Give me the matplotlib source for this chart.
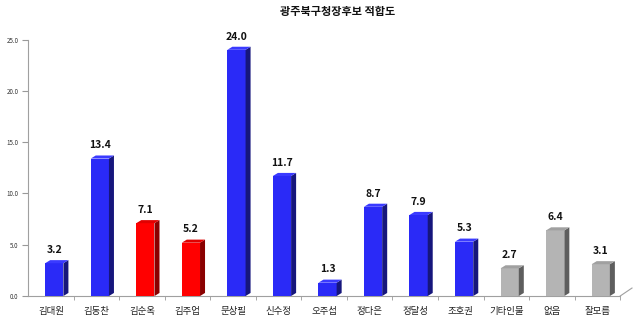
import matplotlib.pyplot as plt
from matplotlib.patches import Polygon, Rectangle

plt.rcParams['font.family'] = ['Noto Sans CJK KR', 'DejaVu Sans']

# data
candidates = ['김대원', '김동찬', '김순옥', '김주업', '문상필', '신수정', '오주섭',
              '정다은', '정달성', '조호권', '기타인물', '없음', '잘모름']
values = [3.2, 13.4, 7.1, 5.2, 24.0, 11.7, 1.3, 8.7, 7.9, 5.3, 2.7, 6.4, 3.1]
groups = ['blue', 'blue', 'red', 'red', 'blue', 'blue', 'blue',
          'blue', 'blue', 'blue', 'gray', 'gray', 'gray']
yticks = [0, 5, 10, 15, 20, 25]

# front, side, top colours per group
palette = {
    'blue': ('#2a2af7', '#16167c', '#3a3aff'),
    'red': ('#ff0000', '#8a0000', '#e00000'),
    'gray': ('#b4b4b4', '#5e5e5e', '#a0a0a0'),
}

fig = plt.figure(figsize=(6.4, 3.19), dpi=100)
ax = fig.add_axes([0.044, 0.072, 0.925, 0.804])

width = 0.40
dx, dy = 0.11, 0.3  # fake 3d depth

for i, (v, g) in enumerate(zip(values, groups)):
    front, side, top = palette[g]
    x0 = i - 0.126
    x1 = x0 + width
    ax.add_patch(Rectangle((x0, 0), width, v, facecolor=front, edgecolor='none', zorder=3))
    ax.add_patch(Polygon([(x1, 0), (x1 + dx, dy), (x1 + dx, v + dy), (x1, v)],
                         closed=True, facecolor=side, edgecolor='none', zorder=3))
    ax.add_patch(Polygon([(x0, v), (x1, v), (x1 + dx, v + dy), (x0 + dx, v + dy)],
                         closed=True, facecolor=top, edgecolor='none', zorder=3))
    ax.text(x0 + width / 2, v + 0.8, f'{v:.1f}', ha='center', va='bottom',
            fontsize=7.5, fontweight='bold', color='#111111')

ax.set_xlim(-0.5, len(candidates) - 0.5)
ax.set_ylim(0, 25)
ax.set_yticks(yticks)
ax.set_yticklabels([f'{t:.1f}' for t in yticks], fontsize=4.5, color='#333333')
ax.set_xticks(range(len(candidates)))
ax.set_xticklabels(candidates, fontsize=6.8, color='#222222')
ax.set_xticks([i - 0.5 for i in range(1, len(candidates) + 1)], minor=True)
ax.tick_params(axis='x', which='major', length=0, pad=8)
ax.tick_params(axis='x', which='minor', length=3, color='#999999')
ax.tick_params(axis='y', length=4, color='#999999', pad=3)

for s in ['top', 'right']:
    ax.spines[s].set_visible(False)
for s in ['left', 'bottom']:
    ax.spines[s].set_color('#a0a0a0')
    ax.spines[s].set_linewidth(0.8)
ax.plot([len(candidates) - 0.5, len(candidates) - 0.24], [0, 0.78], color='#a0a0a0',
        lw=0.8, clip_on=False)

fig.text(0.528, 0.965, '광주북구청장후보 적합도', ha='center', va='center',
         fontsize=8, fontweight='bold', color='#111111')

fig.savefig('out.png', dpi=100)
